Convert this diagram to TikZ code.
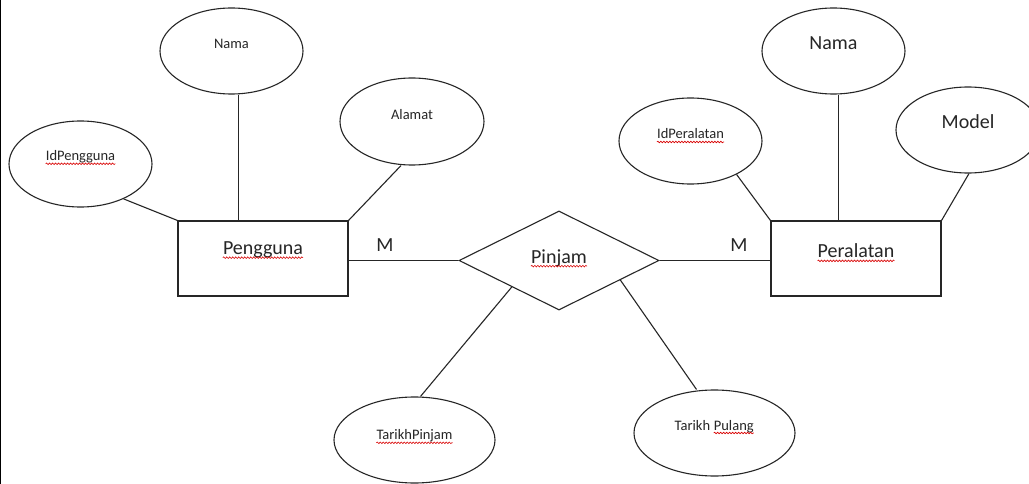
\documentclass[tikz,border=0pt]{standalone}
\usepackage{fontspec}
\setmainfont{Carlito}
\usetikzlibrary{shapes.geometric,decorations.pathmorphing,calc}
\begin{document}
\begin{tikzpicture}[x=1pt,y=-1pt,
  edge/.style={draw=black!85,line width=1.1pt},
  attr/.style={ellipse,draw=black!85,line width=1.1pt,inner sep=0pt},
  ent/.style={rectangle,draw=black!85,line width=1.1pt,minimum width=170pt,minimum height=75pt,inner sep=0pt},
  rel/.style={diamond,draw=black!85,line width=1.1pt,minimum width=200pt,minimum height=99pt,inner sep=0pt},
  small/.style={font=\fontsize{14.5}{17}\selectfont,text=black!85,inner sep=0pt},
  big/.style={font=\fontsize{20}{24}\selectfont,text=black!85,inner sep=0pt},
  squig/.style={draw=red!85!black,line width=0.6pt,decorate,decoration={snake,segment length=3pt,amplitude=0.8pt}}]
\useasboundingbox (0,0) rectangle (1029,484);
\fill[white] (0,0) rectangle (1029,484);
\draw[line width=1.2pt,black] (0.6,0) -- (0.6,484);

% entities and relationship
\node[ent] (pg) at (263,258.5) {};
\node[ent] (pr) at (856,258.5) {};
\node[rel] (pin) at (559,260.5) {};

% attributes
\node[attr,minimum width=143pt,minimum height=86pt] (nm1) at (231.5,51) {};
\node[attr,minimum width=144pt,minimum height=87pt] (al) at (412,121.5) {};
\node[attr,minimum width=143pt,minimum height=86pt] (idp) at (80.5,164) {};
\node[attr,minimum width=143pt,minimum height=86pt] (nm2) at (833.5,51) {};
\node[attr,minimum width=143pt,minimum height=86pt] (idr) at (690.5,141) {};
\node[attr,minimum width=144pt,minimum height=86pt] (md) at (968,130) {};
\node[attr,minimum width=161pt,minimum height=86pt] (tpj) at (414.5,440) {};
\node[attr,minimum width=161pt,minimum height=86pt] (tpl) at (714.5,433) {};

% texts
\node[big] (t-pg) at (263,250) {Pengguna};
\node[big] (t-pr) at (856,251) {Peralatan};
\node[big] (t-pin) at (559,258) {Pinjam};
\node[big] (m1) at (385,245) {M};
\node[big] (m2) at (739,245) {M};
\node[small] (t-nm1) at ([yshift=7pt]nm1.center) {Nama};
\node[small] (t-al) at ([yshift=7pt]al.center) {Alamat};
\node[small] (t-idp) at ([yshift=7pt]idp.center) {IdPengguna};
\node[big] (t-nm2) at ([yshift=8pt]nm2.center) {Nama};
\node[small] (t-idr) at ([yshift=7pt]idr.center) {IdPeralatan};
\node[big] (t-md) at ([yshift=8pt]md.center) {Model};
\node[small] (t-tpj) at ([yshift=4pt]tpj.center) {TarikhPinjam};
\node[small,anchor=base west] (tq1) at ([xshift=-40pt,yshift=3pt]tpl.center) {Tarikh};
\node[small,anchor=base west] (tq2) at ([xshift=3.3pt]tq1.base east) {Pulang};

% spell-check underlines
\foreach \t in {t-pg,t-pr,t-pin,t-idp,t-idr,t-tpj,tq2}
  \draw[squig] ([yshift=-3pt]\t.base west) -- ([yshift=-3pt]\t.base east);

% connectors
\draw[edge] (idp.-39) -- (pg.north west);
\draw[edge] ([xshift=7pt]nm1.south) -- ([xshift=7pt]nm1.south |- pg.north);
\draw[edge] ([xshift=-11pt]al.south) -- (pg.north east);
\draw[edge] (pin.west -| pg.east) -- (pin.west);
\draw[edge] (pin.east) -- (pin.east -| pr.west);
\draw[edge] (idr.-36) -- (pr.north west);
\draw[edge] ([xshift=5pt]nm2.south) -- ([xshift=5pt]nm2.south |- pr.north);
\draw[edge] ([xshift=1pt]md.south) -- (pr.north east);
\draw[edge] ($(pin.west)!0.53!(pin.south)$) -- ([xshift=6pt]tpj.north);
\draw[edge] ($(pin.east)!0.39!(pin.south)$) -- ([xshift=-18pt]tpl.north);
\end{tikzpicture}
\end{document}
